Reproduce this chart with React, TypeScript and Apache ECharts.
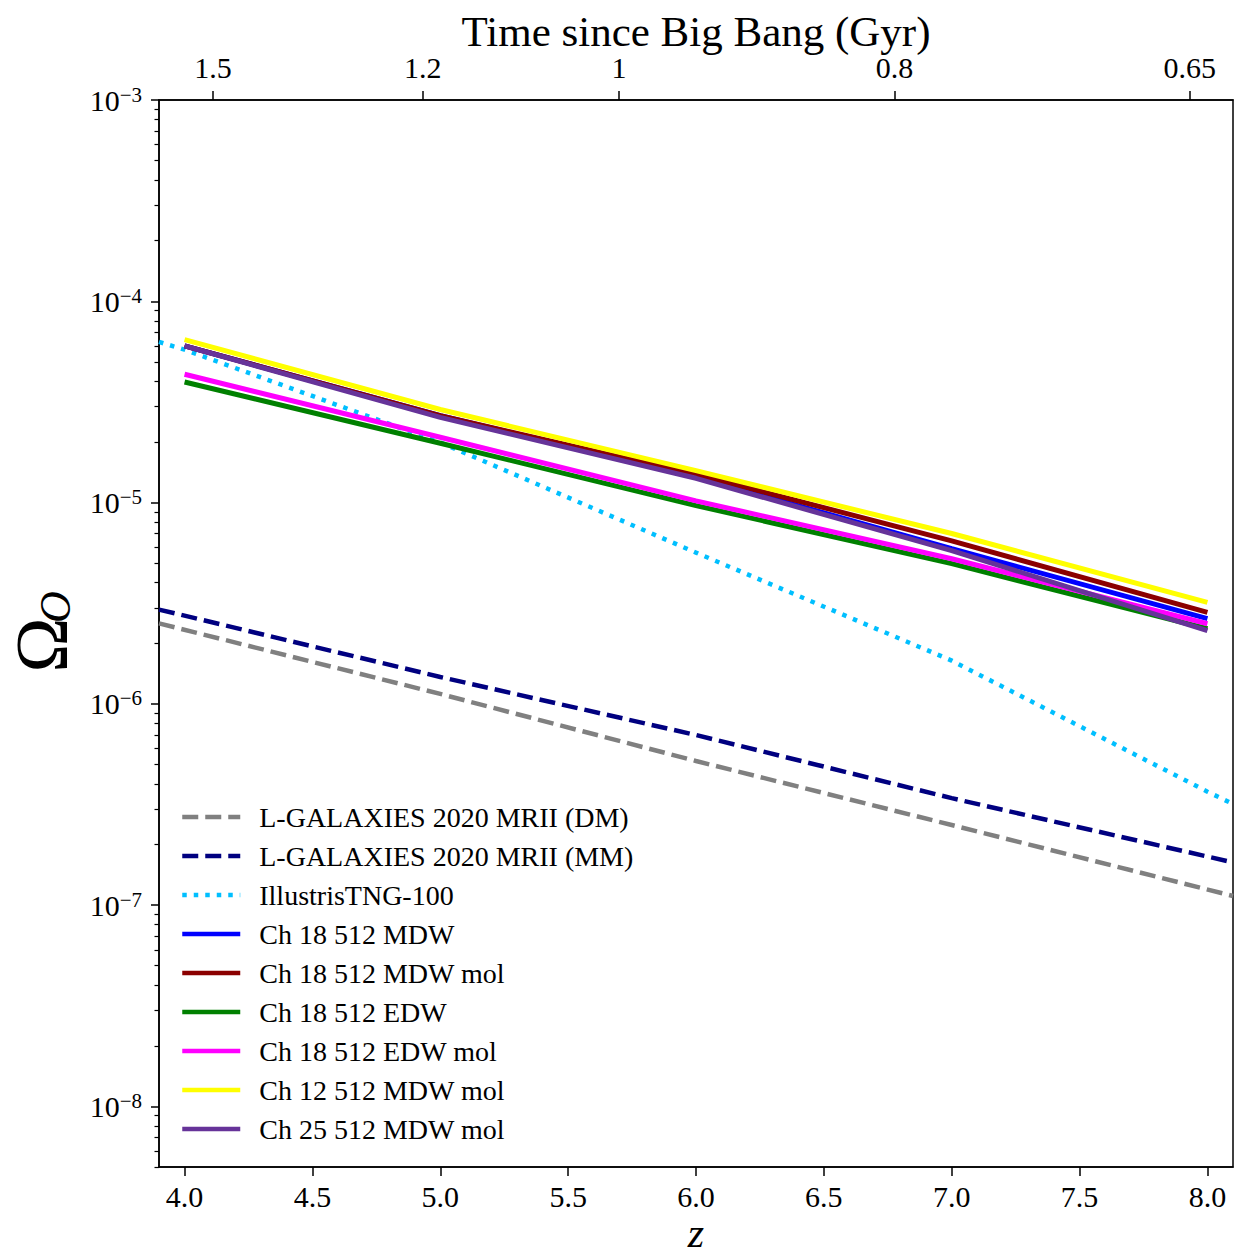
import React, { useEffect, useRef } from "react";
import * as echarts from "echarts";

// ---------- data ----------
const zSim = [4, 5, 6, 7, 8];
const ch18MDW = [6.0e-5, 2.7e-5, 1.34e-5, 5.9e-6, 2.65e-6];
const ch18MDWmol = [6.0e-5, 2.7e-5, 1.38e-5, 6.45e-6, 2.85e-6];
const ch18EDW = [3.97e-5, 1.97e-5, 9.66e-6, 4.97e-6, 2.36e-6];
const ch18EDWmol = [4.34e-5, 2.11e-5, 1.02e-5, 5.26e-6, 2.5e-6];
const ch12MDWmol = [6.45e-5, 2.9e-5, 1.44e-5, 7.02e-6, 3.19e-6];
const ch25MDWmol = [6.0e-5, 2.65e-5, 1.32e-5, 5.77e-6, 2.31e-6];

const zLG = [3.9, 5, 6, 7, 8.1];
const lgDM = [2.51e-6, 1.12e-6, 5.2e-7, 2.5e-7, 1.11e-7];
const lgMM = [2.94e-6, 1.36e-6, 7.0e-7, 3.4e-7, 1.63e-7];

const zTNG = [3.9, 4, 5, 6, 7, 8, 8.1];
const tng100 = [6.28e-5, 5.75e-5, 1.99e-5, 5.64e-6, 1.64e-6, 3.66e-7, 3.18e-7];

const zTicks = [4, 4.5, 5, 5.5, 6, 6.5, 7, 7.5, 8];
const ageLabels = ["1.5", "1.2", "1", "0.8", "0.65"];
const ageTickZ = [4.111, 4.931, 5.699, 6.776, 7.931];
const yMajor = [1e-8, 1e-7, 1e-6, 1e-5, 1e-4, 1e-3];

const Y_MIN = 5e-9;
const Y_MAX = 1e-3;
const X_MIN = 3.9;
const X_MAX = 8.1;

const yMinor: number[] = [];
for (let k = -9; k <= -4; k++) {
  for (let m = 2; m <= 9; m++) {
    const v = m * Math.pow(10, k);
    if (v >= Y_MIN && v <= Y_MAX) yMinor.push(v);
  }
}

const FONT = "Liberation Serif";

const pair = (xs: number[], ys: number[]) => xs.map((x, i) => [x, ys[i]]);

function line(name: string, xs: number[], ys: number[], color: string, width: number, type: any) {
  return {
    name,
    type: "line",
    xAxisIndex: 0,
    yAxisIndex: 0,
    data: pair(xs, ys),
    symbol: "none",
    showSymbol: false,
    clip: true,
    lineStyle: { color, width, type, cap: "butt" },
    itemStyle: { color },
    emphasis: { disabled: true },
  };
}

export default function App() {
  const ref = useRef<HTMLDivElement>(null);
  useEffect(() => {
    if (!ref.current) return;
    const chart = echarts.init(ref.current, undefined, { renderer: "svg" });
    const series = [
      line("L-GALAXIES 2020 MRII (DM)", zLG, lgDM, "#808080", 4.5, [16, 7]),
      line("L-GALAXIES 2020 MRII (MM)", zLG, lgMM, "#000080", 4.5, [16, 7]),
      line("IllustrisTNG-100", zTNG, tng100, "#00bfff", 4.5, [4.5, 7]),
      line("Ch 18 512 MDW", zSim, ch18MDW, "#0000ff", 5, "solid"),
      line("Ch 18 512 MDW mol", zSim, ch18MDWmol, "#8b0000", 5, "solid"),
      line("Ch 18 512 EDW", zSim, ch18EDW, "#008000", 5, "solid"),
      line("Ch 18 512 EDW mol", zSim, ch18EDWmol, "#ff00ff", 5, "solid"),
      line("Ch 12 512 MDW mol", zSim, ch12MDWmol, "#ffff00", 5, "solid"),
      line("Ch 25 512 MDW mol", zSim, ch25MDWmol, "#663399", 5, "solid"),
    ];
    const axisLine = { show: true, onZero: false, lineStyle: { color: "#000", width: 1.5 } };
    chart.setOption({
      animation: false,
      backgroundColor: "#fff",
      grid: {
        left: 159,
        right: 3,
        top: 100,
        bottom: 90,
        show: true,
        borderColor: "#000",
        borderWidth: 1.5,
        backgroundColor: "transparent",
        containLabel: false,
        outerBoundsMode: "none",
      },
      legend: {
        orient: "vertical",
        left: 175,
        top: 797,
        itemWidth: 58,
        itemHeight: 14,
        itemGap: 9,
        selectedMode: false,
        itemStyle: { opacity: 0 },
        lineStyle: { width: 4.5 },
        textStyle: {
          fontFamily: FONT,
          fontSize: 28,
          lineHeight: 30,
          color: "#000",
          padding: [0, 0, 0, 14],
        },
        data: series.map((s) => s.name),
      },
      xAxis: [
        {
          type: "value",
          position: "bottom",
          min: X_MIN,
          max: X_MAX,
          axisLine,
          axisTick: { show: true, inside: false, length: 9, customValues: zTicks, lineStyle: { color: "#000", width: 1.5 } },
          axisLabel: {
            customValues: zTicks,
            formatter: (v: number) => v.toFixed(1),
            fontFamily: FONT,
            fontSize: 30,
            color: "#000",
            margin: 14,
          },
          splitLine: { show: false },
          name: "z",
          nameLocation: "middle",
          nameGap: 45,
          nameMoveOverlap: false,
          nameTextStyle: { fontFamily: FONT, fontStyle: "italic", fontSize: 42, color: "#000" },
        },
        {
          type: "value",
          position: "top",
          min: X_MIN,
          max: X_MAX,
          axisLine,
          axisTick: { show: true, inside: false, length: 9, customValues: ageTickZ, lineStyle: { color: "#000", width: 1.5 } },
          axisLabel: {
            customValues: ageTickZ,
            formatter: (v: number) => {
              let best = 0;
              for (let i = 1; i < ageTickZ.length; i++) {
                if (Math.abs(ageTickZ[i] - v) < Math.abs(ageTickZ[best] - v)) best = i;
              }
              return ageLabels[best];
            },
            fontFamily: FONT,
            fontSize: 30,
            color: "#000",
            margin: 18,
          },
          splitLine: { show: false },
          name: "Time since Big Bang (Gyr)",
          nameLocation: "middle",
          nameGap: 47,
          nameMoveOverlap: false,
          nameTextStyle: { fontFamily: FONT, fontSize: 43, color: "#000" },
        },
      ],
      yAxis: [
        {
          type: "log",
          logBase: 10,
          position: "left",
          min: Y_MIN,
          max: Y_MAX,
          axisLine,
          axisTick: { show: true, inside: false, length: 8, customValues: yMajor, lineStyle: { color: "#000", width: 1.5 } },
          axisLabel: {
            customValues: yMajor,
            margin: 17,
            formatter: (v: number) => {
              const e = Math.round(Math.log10(v));
              return "{b|10}{s|\u2212" + Math.abs(e) + "}";
            },
            rich: {
              b: { fontFamily: FONT, fontSize: 30, color: "#000", lineHeight: 32 },
              s: { fontFamily: FONT, fontSize: 21, color: "#000", verticalAlign: "top", lineHeight: 21 },
            },
          },
          splitLine: { show: false },
        },
        {
          type: "log",
          logBase: 10,
          position: "left",
          min: Y_MIN,
          max: Y_MAX,
          axisLine: { show: false },
          axisTick: { show: true, inside: false, length: 4.5, customValues: yMinor, lineStyle: { color: "#000", width: 1.2 } },
          axisLabel: { show: false },
          splitLine: { show: false },
        },
      ],
      graphic: [
        {
          type: "group",
          x: 42,
          y: 645,
          rotation: Math.PI / 2,
          children: [
            {
              type: "text",
              x: 0,
              y: 0,
              style: {
                text: "\u03A9",
                fontFamily: FONT,
                fontSize: 74,
                fill: "#000",
                align: "center",
                verticalAlign: "middle",
              },
            },
            {
              type: "text",
              x: 38,
              y: 13,
              style: {
                text: "O",
                fontFamily: FONT,
                fontStyle: "italic",
                fontSize: 44,
                fill: "#000",
                align: "center",
                verticalAlign: "middle",
              },
            },
          ],
        },
      ],
      series,
    });
    return () => chart.dispose();
  }, []);
  return (
    <div
      ref={ref}
      style={{ position: "absolute", left: 0, top: 0, width: 1236, height: 1257, background: "#fff" }}
    />
  );
}
